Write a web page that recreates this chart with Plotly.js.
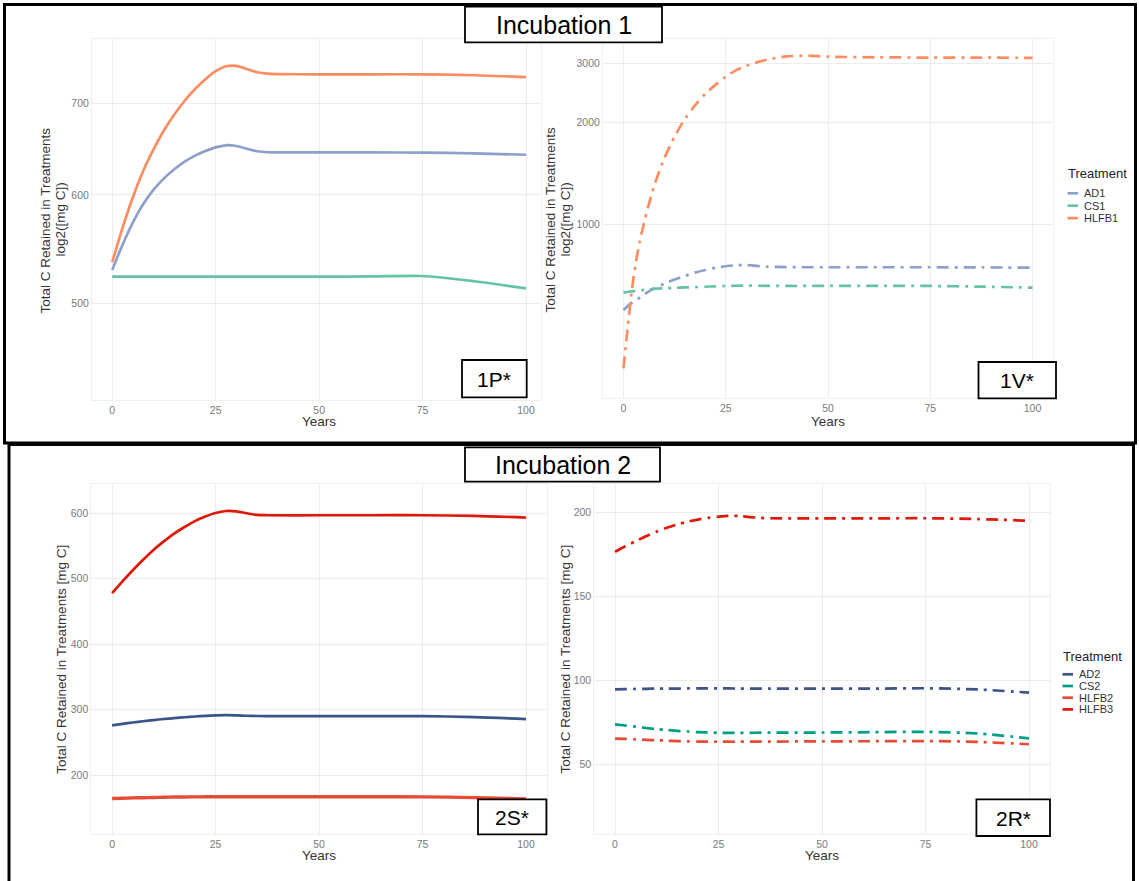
<!DOCTYPE html>
<html><head><meta charset="utf-8">
<script src="https://cdn.plot.ly/plotly-3.0.1.min.js"></script>
<style>html,body{margin:0;padding:0;background:#fff;}#chart{width:1139px;height:881px;}</style>
</head><body><div id="chart"></div>
<script>
// ---------- DATA ----------
// Panel 1P* (Incubation 1, solid lines, log2 axis)
const years1P = [0,2.5,5,7.5,10,12.5,15,17.5,20,22.5,25,27.5,30,32.5,35,37.5,40,50,62.5,75,87.5,100];
const p1_AD1   = [529,552,573,591,605.5,617,626.5,634.5,641,646,650,652.3,651.5,648.5,645.8,644.7,644.5,644.5,644.5,644.3,643.5,642];
const p1_CS1   = [523,523,523,523,523,523,523,523,523,523,523,523,523,523,523,523,523,523,523.2,523.6,519,512.8];
const p1_HLFB1 = [536,568,598,625,648,669,687,703,717,729,739,745,745.5,741.5,737.5,735.8,735.3,735,735,735,733.8,731.6];

// Panel 1V* (Incubation 1, dash-dot lines, log2 axis)
const years1V = [0,1,2,3,4,5,6,7.5,10,12.5,15,17.5,20,22.5,25,27.5,30,35,40,45,50,62.5,75,87.5,100];
const v1_AD1   = [557,572,585,596,606,618,631,645,667,686,703,719,732,743,751,756,757,749,746.5,746,746,746,746,745,744];
const v1_CS1   = [627,630,632.5,635,637,639,641,644,646.5,648,650,651.5,653,655,656.5,657.5,658,657,656.5,656.5,656.5,656.5,656.5,653.5,649];
const v1_HLFB1 = [374,490,630,768,890,1005,1122,1300,1570,1820,2050,2250,2435,2590,2735,2860,2950,3075,3145,3160,3140,3125,3120,3118,3115];

// Panel 2S* (Incubation 2, solid lines)
const years2S = [0,2.5,5,7.5,10,12.5,15,17.5,20,22.5,25,27.5,30,32.5,35,37.5,50,62.5,75,87.5,100];
const s2_AD2   = [276,278.2,280.3,282.2,284,285.6,287,288.3,289.4,290.3,291,291.4,291.2,290.6,290.2,290,290,290,290,288.5,285.5];
const s2_HLFB2 = [164,164.5,165,165.3,165.6,166,166.3,166.5,166.6,166.7,166.8,166.8,166.8,166.8,166.8,166.8,166.8,166.8,166.6,165.5,163.5];
const s2_HLFB3 = [478,496,513,529,544,557,569,579,588,595,600.5,603.5,603,600,597.5,597,597,597,597,596,593.5];

// Panel 2R* (Incubation 2, dash-dot lines)
const years2R = [0,2.5,5,7.5,10,12.5,15,17.5,20,22.5,25,27.5,30,32.5,35,37.5,50,62.5,75,87.5,100];
const r2_AD2   = [94.6,94.7,94.8,94.9,95,95,95,95.1,95.1,95.1,95.1,95.1,95,95,95,95,95,95,95.2,94.5,92.6];
const r2_CS2   = [73.6,73,72.3,71.5,70.8,70.3,69.8,69.4,69,68.8,68.6,68.6,68.6,68.6,68.7,68.7,68.8,69,69.2,68.2,65.3];
const r2_HLFB2 = [65.2,65,64.7,64.4,64.2,63.9,63.7,63.5,63.4,63.3,63.3,63.3,63.3,63.4,63.4,63.4,63.5,63.6,63.7,63.2,61.8];
const r2_HLFB3 = [176.7,180,183,186,188.6,191,193,194.6,195.9,196.9,197.6,198.1,198,197.4,196.9,196.7,196.6,196.6,196.7,196.2,195.2];

const legend1Names  = ['AD1','CS1','HLFB1'];
const legend1Colors = ['#8da0cb','#66c2a5','#fc8d62'];
const legend2Names  = ['AD2','CS2','HLFB2','HLFB3'];
const legend2Colors = ['#3c5488','#00a087','#e64b35','#dc1a0c'];

const ticks1P = [500,600,700];
const ticks1V = [1000,2000,3000];
const ticks2S = [200,300,400,500,600];
const ticks2R = [50,100,150,200];
const xTicks  = [0,25,50,75,100];

// ---------- LAYOUT HELPERS ----------
const W = 1139, H = 881;
const px = v => v / W;
const py = v => 1 - v / H;
const FONT = 'Liberation Sans, Arial, Helvetica, sans-serif';
const DASH = '12px,6px,3px,6px';

function tr(x, y, xa, ya, color, dash, width) {
  return {x: x, y: y, xaxis: xa, yaxis: ya, mode: 'lines', hoverinfo: 'skip', showlegend: false,
          line: {color: color, width: width || 2.7, shape: 'spline', smoothing: 0.8, dash: dash || 'solid'}};
}

const data = [
  tr(years1P, p1_AD1, 'x', 'y', legend1Colors[0]),
  tr(years1P, p1_CS1, 'x', 'y', legend1Colors[1]),
  tr(years1P, p1_HLFB1, 'x', 'y', legend1Colors[2]),
  tr(years1V, v1_AD1, 'x2', 'y2', legend1Colors[0], DASH),
  tr(years1V, v1_CS1, 'x2', 'y2', legend1Colors[1], DASH),
  tr(years1V, v1_HLFB1, 'x2', 'y2', legend1Colors[2], DASH),
  tr(years2S, s2_AD2, 'x3', 'y3', legend2Colors[0]),
  tr(years2S, s2_HLFB2, 'x3', 'y3', legend2Colors[2], null, 3.4),
  tr(years2S, s2_HLFB3, 'x3', 'y3', legend2Colors[3]),
  tr(years2R, r2_AD2, 'x4', 'y4', legend2Colors[0], DASH),
  tr(years2R, r2_CS2, 'x4', 'y4', legend2Colors[1], DASH),
  tr(years2R, r2_HLFB2, 'x4', 'y4', legend2Colors[2], DASH),
  tr(years2R, r2_HLFB3, 'x4', 'y4', legend2Colors[3], DASH)
];

function xax(d0, d1, range, anchor) {
  return {domain: [px(d0), px(d1)], range: range, anchor: anchor, tickmode: 'array', tickvals: xTicks,
          ticks: '', showgrid: true, gridcolor: '#ececec', gridwidth: 1, zeroline: false,
          showline: true, mirror: true, linecolor: '#efefef', linewidth: 1,
          tickfont: {family: FONT, size: 10.5, color: '#7a7a7a'}, fixedrange: true};
}
function yax(top, bottom, range, tv, anchor, type) {
  return {domain: [py(bottom), py(top)], range: range, anchor: anchor, type: type || 'linear',
          tickmode: 'array', tickvals: tv, ticktext: tv.map(String),
          ticks: '', showgrid: true, gridcolor: '#ececec', gridwidth: 1, zeroline: false,
          showline: true, mirror: true, linecolor: '#efefef', linewidth: 1,
          tickfont: {family: FONT, size: 10.5, color: '#7a7a7a'}, fixedrange: true};
}

const shapes = [];
const annotations = [];

function box(x0, y0, x1, y1, w, fill) {
  shapes.push({type: 'rect', xref: 'paper', yref: 'paper', x0: px(x0), x1: px(x1), y0: py(y1), y1: py(y0),
               line: {color: '#000', width: w}, fillcolor: fill || 'rgba(0,0,0,0)', layer: 'above'});
}
function txt(x, y, text, size, color, opts) {
  annotations.push(Object.assign({xref: 'paper', yref: 'paper', x: px(x), y: py(y), text: text, showarrow: false,
    xanchor: 'center', yanchor: 'middle', font: {family: FONT, size: size, color: color}}, opts || {}));
}

// outer frames
box(4.5, 4.5, 1135.5, 443, 3);
box(9, 444.5, 1133.5, 900, 3);

// section titles
box(465, 6.7, 662, 42.3, 1.8, '#fff');
txt(563.5, 24.8, 'Incubation 1', 25, '#000');
box(465, 447.3, 660, 481.7, 1.8, '#fff');
txt(562.5, 464.8, 'Incubation 2', 25, '#000');

// panel tags
box(462, 360, 526.7, 397.3, 1.8, '#fff'); txt(494.3, 379, '1P*', 21, '#000');
box(978.5, 362, 1056, 398.3, 1.8, '#fff'); txt(1017.2, 380.5, '1V*', 21, '#000');
box(478, 799.3, 546.4, 834.3, 1.8, '#fff'); txt(512.2, 817, '2S*', 21, '#000');
box(976.4, 799.3, 1050, 836, 1.8, '#fff'); txt(1013.2, 818, '2R*', 21, '#000');

// axis titles
function yearsLabel(xa, y) {
  annotations.push({xref: xa, yref: 'paper', x: 50, y: py(y), text: 'Years', showarrow: false,
    xanchor: 'center', yanchor: 'middle', font: {family: FONT, size: 13.5, color: '#333'}});
}
yearsLabel('x', 421.7); yearsLabel('x2', 421.7); yearsLabel('x3', 855); yearsLabel('x4', 855);

const rot = {textangle: -90};
txt(45.4, 220, 'Total C Retained in Treatments', 13.5, '#333', rot);
txt(59.5, 220, 'log2([mg C])', 13.5, '#333', rot);
txt(549.5, 220, 'Total C Retained in Treatments', 13.5, '#333', rot);
txt(564.5, 220, 'log2([mg C])', 13.5, '#333', rot);
txt(60.7, 659, 'Total C Retained in Treatments [mg C]', 13.5, '#333', rot);
txt(564.5, 659, 'Total C Retained in Treatments [mg C]', 13.5, '#333', rot);

// legends
function legend(x, yTitle, y0, step, names, colors) {
  txt(x, yTitle, 'Treatment', 13, '#222', {xanchor: 'left'});
  names.forEach((n, i) => {
    const yy = y0 + i * step;
    shapes.push({type: 'line', xref: 'paper', yref: 'paper', x0: px(x + 1.5), x1: px(x + 12), y0: py(yy), y1: py(yy),
                 line: {color: colors[i], width: 2.7}});
    txt(x + 16, yy, n, 11, '#333', {xanchor: 'left'});
  });
}
legend(1066, 174, 193.3, 12.4, legend1Names, legend1Colors);
legend(1061, 656, 674.3, 11.7, legend2Names, legend2Colors);

const layout = {
  width: W, height: H, margin: {l: 0, r: 0, t: 0, b: 0},
  paper_bgcolor: '#fff', plot_bgcolor: '#fff', showlegend: false,
  font: {family: FONT},
  xaxis:  xax(92, 540.5, [-4.9, 103.5], 'y'),
  yaxis:  yax(39, 400, [2.628465, 2.892046], ticks1P, 'x', 'log'),
  xaxis2: xax(603, 1053, [-5, 105], 'y2'),
  yaxis2: yax(39, 398.3, [2.484292, 3.5492], ticks1V, 'x2', 'log'),
  xaxis3: xax(91.4, 546.7, [-5, 105], 'y3'),
  yaxis3: yax(484.3, 834.3, [109.4, 644.3], ticks2S, 'x3'),
  xaxis4: xax(594.3, 1049.7, [-5, 105], 'y4'),
  yaxis4: yax(484.3, 834.3, [8.04, 216.95], ticks2R, 'x4'),
  shapes: shapes, annotations: annotations
};

Plotly.newPlot('chart', data, layout, {displayModeBar: false, staticPlot: true});
</script>
</body></html>
